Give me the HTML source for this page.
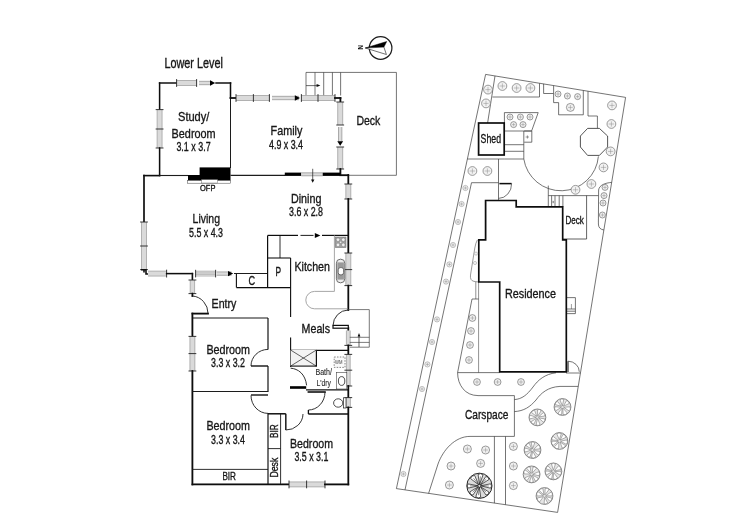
<!DOCTYPE html>
<html><head><meta charset="utf-8"><title>Floor plan</title>
<style>
html,body{margin:0;padding:0;background:#fff;}
body{width:750px;height:531px;overflow:hidden;font-family:"Liberation Sans",sans-serif;}
svg{display:block;font-family:"Liberation Sans",sans-serif;}
</style></head><body>
<svg width="750" height="531" viewBox="0 0 750 531">
<defs><filter id="soft" x="0" y="0" width="750" height="531" filterUnits="userSpaceOnUse"><feGaussianBlur stdDeviation="0.3"/></filter></defs>
<rect width="750" height="531" fill="#fff"/>
<g filter="url(#soft)">
<g id="floor">
<path d="M306 95 L306 72.4 L396.4 72.4 L396.4 175.3 L341 175.3" fill="none" stroke="#3a3a3a" stroke-width="0.7" />
<line x1="315" y1="72.4" x2="315" y2="95.5" stroke="#3a3a3a" stroke-width="0.7" />
<line x1="323.7" y1="72.4" x2="323.7" y2="95.5" stroke="#3a3a3a" stroke-width="0.7" />
<line x1="332.4" y1="72.4" x2="332.4" y2="95.5" stroke="#3a3a3a" stroke-width="0.7" />
<line x1="340.6" y1="72.4" x2="340.6" y2="95.5" stroke="#3a3a3a" stroke-width="0.7" />
<line x1="306" y1="85.6" x2="318" y2="85.6" stroke="#2a2a2a" stroke-width="0.7" />
<polygon points="320.4,85.6 316.6,84.1 316.6,87.1" fill="#111"/>
<line x1="159.6" y1="83" x2="176.6" y2="83" stroke="#0d0d0d" stroke-width="1.5" stroke-linecap="square"/>
<rect x="176.6" y="80.5" width="20.0" height="5.0" fill="#dadada"/>
<line x1="176.6" y1="80.5" x2="196.6" y2="80.5" stroke="#8a8a8a" stroke-width="0.6" />
<line x1="176.6" y1="85.5" x2="196.6" y2="85.5" stroke="#8a8a8a" stroke-width="0.6" />
<line x1="176.6" y1="79.1" x2="176.6" y2="86.9" stroke="#222" stroke-width="0.9" />
<line x1="196.6" y1="79.1" x2="196.6" y2="86.9" stroke="#222" stroke-width="0.9" />
<rect x="199" y="81.3" width="12.300000000000011" height="3.4" fill="#dcdcdc"/>
<line x1="199" y1="81.3" x2="211.3" y2="81.3" stroke="#666" stroke-width="0.5" />
<line x1="199" y1="84.7" x2="211.3" y2="84.7" stroke="#666" stroke-width="0.5" />
<polygon points="215.2,83 210.0,80.3 210.0,85.7" fill="#000"/>
<line x1="216" y1="83" x2="230.5" y2="83" stroke="#0d0d0d" stroke-width="1.5" stroke-linecap="square"/>
<line x1="230.5" y1="83" x2="230.5" y2="98" stroke="#0d0d0d" stroke-width="1.5" stroke-linecap="square"/>
<line x1="159.6" y1="83" x2="159.6" y2="109.6" stroke="#0d0d0d" stroke-width="1.5" stroke-linecap="square"/>
<rect x="157.1" y="109.6" width="5.0" height="38.400000000000006" fill="#dadada"/>
<line x1="157.1" y1="109.6" x2="157.1" y2="148" stroke="#8a8a8a" stroke-width="0.6" />
<line x1="162.1" y1="109.6" x2="162.1" y2="148" stroke="#8a8a8a" stroke-width="0.6" />
<line x1="155.7" y1="109.6" x2="163.5" y2="109.6" stroke="#222" stroke-width="0.9" />
<line x1="155.7" y1="129" x2="163.5" y2="129" stroke="#222" stroke-width="0.9" />
<line x1="155.7" y1="148" x2="163.5" y2="148" stroke="#222" stroke-width="0.9" />
<line x1="159.6" y1="148" x2="159.6" y2="175.5" stroke="#0d0d0d" stroke-width="1.5" stroke-linecap="square"/>
<line x1="230.5" y1="98" x2="230.5" y2="168" stroke="#1c1c1c" stroke-width="1.0" />
<line x1="230.5" y1="98" x2="236" y2="98" stroke="#0d0d0d" stroke-width="1.8" stroke-linecap="square"/>
<rect x="236" y="95.5" width="33.39999999999998" height="5.0" fill="#dadada"/>
<line x1="236" y1="95.5" x2="269.4" y2="95.5" stroke="#8a8a8a" stroke-width="0.6" />
<line x1="236" y1="100.5" x2="269.4" y2="100.5" stroke="#8a8a8a" stroke-width="0.6" />
<line x1="236" y1="94.1" x2="236" y2="101.9" stroke="#222" stroke-width="0.9" />
<line x1="253.4" y1="94.1" x2="253.4" y2="101.9" stroke="#222" stroke-width="0.9" />
<line x1="269.4" y1="94.1" x2="269.4" y2="101.9" stroke="#222" stroke-width="0.9" />
<rect x="272" y="96.3" width="27" height="3.4" fill="#dcdcdc"/>
<line x1="272" y1="96.3" x2="299" y2="96.3" stroke="#666" stroke-width="0.5" />
<line x1="272" y1="99.7" x2="299" y2="99.7" stroke="#666" stroke-width="0.5" />
<polygon points="300,98 294.8,95.3 294.8,100.7" fill="#000"/>
<rect x="301.4" y="95.5" width="33.60000000000002" height="5.0" fill="#dadada"/>
<line x1="301.4" y1="95.5" x2="335" y2="95.5" stroke="#8a8a8a" stroke-width="0.6" />
<line x1="301.4" y1="100.5" x2="335" y2="100.5" stroke="#8a8a8a" stroke-width="0.6" />
<line x1="301.4" y1="94.1" x2="301.4" y2="101.9" stroke="#222" stroke-width="0.9" />
<line x1="318" y1="94.1" x2="318" y2="101.9" stroke="#222" stroke-width="0.9" />
<line x1="335" y1="94.1" x2="335" y2="101.9" stroke="#222" stroke-width="0.9" />
<line x1="335" y1="98" x2="340.4" y2="98" stroke="#0d0d0d" stroke-width="1.8" stroke-linecap="square"/>
<line x1="340.4" y1="98" x2="340.4" y2="102" stroke="#0d0d0d" stroke-width="1.8" stroke-linecap="square"/>
<rect x="337.7" y="102" width="5.0" height="23" fill="#dadada"/>
<line x1="337.7" y1="102" x2="337.7" y2="125" stroke="#8a8a8a" stroke-width="0.6" />
<line x1="342.7" y1="102" x2="342.7" y2="125" stroke="#8a8a8a" stroke-width="0.6" />
<line x1="336.3" y1="102" x2="344.09999999999997" y2="102" stroke="#222" stroke-width="0.9" />
<line x1="336.3" y1="125" x2="344.09999999999997" y2="125" stroke="#222" stroke-width="0.9" />
<rect x="338.5" y="127" width="3.4" height="14.5" fill="#dcdcdc"/>
<line x1="338.5" y1="127" x2="338.5" y2="141.5" stroke="#666" stroke-width="0.5" />
<line x1="341.9" y1="127" x2="341.9" y2="141.5" stroke="#666" stroke-width="0.5" />
<polygon points="340.2,145.8 337.3,141.20000000000002 343.09999999999997,141.20000000000002" fill="#000"/>
<rect x="337.7" y="147" width="5.0" height="22" fill="#dadada"/>
<line x1="337.7" y1="147" x2="337.7" y2="169" stroke="#8a8a8a" stroke-width="0.6" />
<line x1="342.7" y1="147" x2="342.7" y2="169" stroke="#8a8a8a" stroke-width="0.6" />
<line x1="336.3" y1="147" x2="344.09999999999997" y2="147" stroke="#222" stroke-width="0.9" />
<line x1="336.3" y1="169" x2="344.09999999999997" y2="169" stroke="#222" stroke-width="0.9" />
<line x1="340.4" y1="169" x2="340.4" y2="175" stroke="#0d0d0d" stroke-width="1.8" stroke-linecap="square"/>
<line x1="144" y1="175.6" x2="159.6" y2="175.6" stroke="#0d0d0d" stroke-width="1.6" stroke-linecap="square"/>
<line x1="159.6" y1="175.5" x2="188" y2="175.5" stroke="#1c1c1c" stroke-width="1.1" />
<line x1="230.5" y1="175.4" x2="285" y2="175.4" stroke="#1c1c1c" stroke-width="1.1" />
<rect x="284.8" y="172.6" width="16.5" height="3.3" fill="#000"/>
<rect x="301.3" y="172.8" width="21.4" height="3.0" fill="#dcdcdc"/>
<line x1="301.3" y1="172.8" x2="322.7" y2="172.8" stroke="#666" stroke-width="0.5" />
<line x1="301.3" y1="175.8" x2="322.7" y2="175.8" stroke="#666" stroke-width="0.5" />
<rect x="322.7" y="172.6" width="17.6" height="3.3" fill="#000"/>
<line x1="340.2" y1="175.2" x2="348" y2="175.2" stroke="#0d0d0d" stroke-width="1.8" stroke-linecap="square"/>
<line x1="312.7" y1="168.8" x2="312.7" y2="181" stroke="#1c1c1c" stroke-width="0.7" />
<polygon points="312.7,182.7 311,179.6 314.4,179.6" fill="#111"/>
<rect x="199.6" y="167.4" width="30.9" height="13.2" fill="#000"/>
<rect x="188" y="175" width="12" height="5.6" fill="#000"/>
<rect x="187.6" y="180.6" width="42.9" height="2.6" fill="#fff" stroke="#444" stroke-width="0.5"/>
<rect x="201.6" y="179.6" width="16" height="3.4" fill="#fff" stroke="#555" stroke-width="0.4"/>
<line x1="144" y1="175.6" x2="144" y2="222" stroke="#0d0d0d" stroke-width="1.7" stroke-linecap="square"/>
<rect x="141.5" y="222" width="5.0" height="47.60000000000002" fill="#dadada"/>
<line x1="141.5" y1="222" x2="141.5" y2="269.6" stroke="#8a8a8a" stroke-width="0.6" />
<line x1="146.5" y1="222" x2="146.5" y2="269.6" stroke="#8a8a8a" stroke-width="0.6" />
<line x1="140.1" y1="222" x2="147.9" y2="222" stroke="#222" stroke-width="0.9" />
<line x1="140.1" y1="246" x2="147.9" y2="246" stroke="#222" stroke-width="0.9" />
<line x1="140.1" y1="269.6" x2="147.9" y2="269.6" stroke="#222" stroke-width="0.9" />
<path d="M141 269.8 L146 269.8 L146 274 L148.5 274" fill="none" stroke="#0d0d0d" stroke-width="1.6" />
<path d="M144 269.8 L144 272.5" fill="none" stroke="#0d0d0d" stroke-width="1.6" />
<rect x="148" y="271.1" width="18.599999999999994" height="5.0" fill="#dadada"/>
<line x1="148" y1="271.1" x2="166.6" y2="271.1" stroke="#8a8a8a" stroke-width="0.6" />
<line x1="148" y1="276.1" x2="166.6" y2="276.1" stroke="#8a8a8a" stroke-width="0.6" />
<line x1="166.6" y1="269.70000000000005" x2="166.6" y2="277.5" stroke="#222" stroke-width="0.9" />
<line x1="166.6" y1="273.6" x2="192.4" y2="273.6" stroke="#0d0d0d" stroke-width="1.5" stroke-linecap="square"/>
<rect x="195.6" y="271.2" width="20" height="4.8" fill="#f2f2f2"/>
<line x1="195.6" y1="271.2" x2="215.6" y2="271.2" stroke="#7a7a7a" stroke-width="0.55" />
<line x1="195.6" y1="272.9" x2="215.6" y2="272.9" stroke="#7a7a7a" stroke-width="0.55" />
<line x1="195.6" y1="274.3" x2="215.6" y2="274.3" stroke="#7a7a7a" stroke-width="0.55" />
<line x1="195.6" y1="276.0" x2="215.6" y2="276.0" stroke="#7a7a7a" stroke-width="0.55" />
<line x1="195.6" y1="269.8" x2="195.6" y2="277.4" stroke="#222" stroke-width="0.9" />
<line x1="215.6" y1="269.8" x2="215.6" y2="277.4" stroke="#222" stroke-width="0.9" />
<rect x="216.5" y="271.90000000000003" width="15.0" height="3.4" fill="#dcdcdc"/>
<line x1="216.5" y1="271.90000000000003" x2="231.5" y2="271.90000000000003" stroke="#666" stroke-width="0.5" />
<line x1="216.5" y1="275.3" x2="231.5" y2="275.3" stroke="#666" stroke-width="0.5" />
<polygon points="233.2,273.6 228.0,270.90000000000003 228.0,276.3" fill="#000"/>
<line x1="234" y1="273.5" x2="267.6" y2="273.5" stroke="#1c1c1c" stroke-width="1.1" />
<line x1="192.4" y1="273.6" x2="192.4" y2="280" stroke="#0d0d0d" stroke-width="1.6" stroke-linecap="square"/>
<rect x="190.20000000000002" y="280" width="4.4" height="13.600000000000023" fill="#dadada"/>
<line x1="190.20000000000002" y1="280" x2="190.20000000000002" y2="293.6" stroke="#8a8a8a" stroke-width="0.6" />
<line x1="194.6" y1="280" x2="194.6" y2="293.6" stroke="#8a8a8a" stroke-width="0.6" />
<line x1="188.5" y1="280" x2="196.3" y2="280" stroke="#222" stroke-width="0.9" />
<line x1="188.5" y1="293.6" x2="196.3" y2="293.6" stroke="#222" stroke-width="0.9" />
<line x1="192.4" y1="293.6" x2="192.4" y2="296" stroke="#0d0d0d" stroke-width="1.8" stroke-linecap="square"/>
<path d="M192.6 296 A17 17.4 0 0 1 208 313.4" fill="none" stroke="#1c1c1c" stroke-width="0.9" />
<line x1="192.4" y1="313.6" x2="208" y2="313.6" stroke="#0d0d0d" stroke-width="1.8" stroke-linecap="square"/>
<line x1="192.4" y1="313.6" x2="192.4" y2="336.4" stroke="#0d0d0d" stroke-width="1.8" stroke-linecap="square"/>
<rect x="189.9" y="336.4" width="5.0" height="34.60000000000002" fill="#dadada"/>
<line x1="189.9" y1="336.4" x2="189.9" y2="371" stroke="#8a8a8a" stroke-width="0.6" />
<line x1="194.9" y1="336.4" x2="194.9" y2="371" stroke="#8a8a8a" stroke-width="0.6" />
<line x1="188.5" y1="336.4" x2="196.3" y2="336.4" stroke="#222" stroke-width="0.9" />
<line x1="188.5" y1="353.6" x2="196.3" y2="353.6" stroke="#222" stroke-width="0.9" />
<line x1="188.5" y1="371" x2="196.3" y2="371" stroke="#222" stroke-width="0.9" />
<line x1="192.4" y1="371" x2="192.4" y2="484.4" stroke="#0d0d0d" stroke-width="1.8" stroke-linecap="square"/>
<line x1="192.4" y1="484.4" x2="289" y2="484.4" stroke="#0d0d0d" stroke-width="1.8" stroke-linecap="square"/>
<rect x="289" y="481.9" width="36" height="5.0" fill="#dadada"/>
<line x1="289" y1="481.9" x2="325" y2="481.9" stroke="#8a8a8a" stroke-width="0.6" />
<line x1="289" y1="486.9" x2="325" y2="486.9" stroke="#8a8a8a" stroke-width="0.6" />
<line x1="289" y1="480.5" x2="289" y2="488.29999999999995" stroke="#222" stroke-width="0.9" />
<line x1="306.6" y1="480.5" x2="306.6" y2="488.29999999999995" stroke="#222" stroke-width="0.9" />
<line x1="325" y1="480.5" x2="325" y2="488.29999999999995" stroke="#222" stroke-width="0.9" />
<line x1="325" y1="484.4" x2="348.3" y2="484.4" stroke="#0d0d0d" stroke-width="1.8" stroke-linecap="square"/>
<line x1="348.3" y1="175" x2="348.3" y2="184" stroke="#0d0d0d" stroke-width="1.8" stroke-linecap="square"/>
<rect x="345.8" y="184" width="5.0" height="15" fill="#dadada"/>
<line x1="345.8" y1="184" x2="345.8" y2="199" stroke="#8a8a8a" stroke-width="0.6" />
<line x1="350.8" y1="184" x2="350.8" y2="199" stroke="#8a8a8a" stroke-width="0.6" />
<line x1="344.40000000000003" y1="184" x2="352.2" y2="184" stroke="#222" stroke-width="0.9" />
<line x1="344.40000000000003" y1="199" x2="352.2" y2="199" stroke="#222" stroke-width="0.9" />
<line x1="348.3" y1="199" x2="348.3" y2="253" stroke="#0d0d0d" stroke-width="1.8" stroke-linecap="square"/>
<rect x="345.8" y="253" width="5.0" height="32.60000000000002" fill="#dadada"/>
<line x1="345.8" y1="253" x2="345.8" y2="285.6" stroke="#8a8a8a" stroke-width="0.6" />
<line x1="350.8" y1="253" x2="350.8" y2="285.6" stroke="#8a8a8a" stroke-width="0.6" />
<line x1="344.40000000000003" y1="253" x2="352.2" y2="253" stroke="#222" stroke-width="0.9" />
<line x1="344.40000000000003" y1="269.6" x2="352.2" y2="269.6" stroke="#222" stroke-width="0.9" />
<line x1="344.40000000000003" y1="285.6" x2="352.2" y2="285.6" stroke="#222" stroke-width="0.9" />
<line x1="348.3" y1="285.6" x2="348.3" y2="310" stroke="#0d0d0d" stroke-width="1.8" stroke-linecap="square"/>
<line x1="348.3" y1="328" x2="348.3" y2="330.5" stroke="#0d0d0d" stroke-width="1.8" stroke-linecap="square"/>
<rect x="346.40000000000003" y="330.5" width="3.8" height="14.899999999999977" fill="#dadada"/>
<line x1="346.40000000000003" y1="330.5" x2="346.40000000000003" y2="345.4" stroke="#8a8a8a" stroke-width="0.6" />
<line x1="350.2" y1="330.5" x2="350.2" y2="345.4" stroke="#8a8a8a" stroke-width="0.6" />
<line x1="344.40000000000003" y1="345.4" x2="352.2" y2="345.4" stroke="#222" stroke-width="0.9" />
<line x1="348.3" y1="345.4" x2="348.3" y2="354.4" stroke="#0d0d0d" stroke-width="1.8" stroke-linecap="square"/>
<rect x="346.40000000000003" y="354.4" width="3.8" height="31.600000000000023" fill="#dadada"/>
<line x1="346.40000000000003" y1="354.4" x2="346.40000000000003" y2="386" stroke="#8a8a8a" stroke-width="0.6" />
<line x1="350.2" y1="354.4" x2="350.2" y2="386" stroke="#8a8a8a" stroke-width="0.6" />
<line x1="344.40000000000003" y1="354.4" x2="352.2" y2="354.4" stroke="#222" stroke-width="0.9" />
<line x1="344.40000000000003" y1="370.2" x2="352.2" y2="370.2" stroke="#222" stroke-width="0.9" />
<line x1="344.40000000000003" y1="386" x2="352.2" y2="386" stroke="#222" stroke-width="0.9" />
<line x1="348.3" y1="386" x2="348.3" y2="397.6" stroke="#0d0d0d" stroke-width="1.8" stroke-linecap="square"/>
<rect x="346.2" y="397.6" width="4.2" height="9.799999999999955" fill="#dadada"/>
<line x1="346.2" y1="397.6" x2="346.2" y2="407.4" stroke="#8a8a8a" stroke-width="0.6" />
<line x1="350.40000000000003" y1="397.6" x2="350.40000000000003" y2="407.4" stroke="#8a8a8a" stroke-width="0.6" />
<line x1="344.40000000000003" y1="397.6" x2="352.2" y2="397.6" stroke="#222" stroke-width="0.9" />
<line x1="344.40000000000003" y1="407.4" x2="352.2" y2="407.4" stroke="#222" stroke-width="0.9" />
<line x1="348.3" y1="407.4" x2="348.3" y2="484.4" stroke="#0d0d0d" stroke-width="1.8" stroke-linecap="square"/>
<line x1="267.6" y1="235.4" x2="298" y2="235.4" stroke="#0d0d0d" stroke-width="1.2" />
<line x1="300.5" y1="235.4" x2="313.5" y2="235.4" stroke="#1c1c1c" stroke-width="1.0" />
<polygon points="320.4,235.4 314.8,232.9 314.8,237.9" fill="#000"/>
<line x1="322" y1="235.4" x2="348" y2="235.4" stroke="#0d0d0d" stroke-width="1.2" />
<line x1="267.6" y1="235.4" x2="267.6" y2="287.6" stroke="#0d0d0d" stroke-width="1.2" />
<line x1="280" y1="235.4" x2="280" y2="258" stroke="#1c1c1c" stroke-width="0.9" />
<line x1="267.6" y1="258" x2="290.6" y2="258" stroke="#0d0d0d" stroke-width="1.1" />
<line x1="290.6" y1="258" x2="290.6" y2="317" stroke="#0d0d0d" stroke-width="1.1" />
<line x1="236.4" y1="287.6" x2="290.6" y2="287.6" stroke="#0d0d0d" stroke-width="1.1" />
<line x1="236.4" y1="273.4" x2="236.4" y2="287.6" stroke="#0d0d0d" stroke-width="1.1" />
<line x1="290.6" y1="337.4" x2="290.6" y2="367" stroke="#0d0d0d" stroke-width="1.1" />
<path d="M334.4 235.4 L334.4 291.4 L314.5 291.4 A8.7 8.7 0 0 0 314.5 308.8 L347 308.8" fill="none" stroke="#9c9c9c" stroke-width="0.9" />
<rect x="335.2" y="237" width="10.8" height="10.6" fill="#a2a2a2" stroke="#6e6e6e" stroke-width="0.5"/>
<circle cx="338" cy="239.7" r="1.8" fill="#efefef" stroke="#666" stroke-width="0.4"/>
<circle cx="338" cy="244.9" r="1.8" fill="#efefef" stroke="#666" stroke-width="0.4"/>
<circle cx="343.3" cy="239.7" r="1.8" fill="#efefef" stroke="#666" stroke-width="0.4"/>
<circle cx="343.3" cy="244.9" r="1.8" fill="#efefef" stroke="#666" stroke-width="0.4"/>
<circle cx="340.65" cy="242.3" r="0.8" fill="#f4f4f4"/>
<rect x="336.4" y="259.2" width="8.4" height="23.6" rx="4" fill="#ededed" stroke="#4a4a4a" stroke-width="0.8"/>
<rect x="337.3" y="262.4" width="6.6" height="17.2" fill="#9a9a9a"/>
<rect x="338.2" y="267.6" width="5.4" height="7.2" rx="2.2" fill="#fff" stroke="#444" stroke-width="0.7"/>
<path d="M348.3 309.6 L369.3 309.6 L369.3 347.2 L349.8 347.2" fill="none" stroke="#555" stroke-width="0.8" />
<line x1="349.8" y1="337.3" x2="369.3" y2="337.3" stroke="#444" stroke-width="0.7" />
<line x1="349.8" y1="342.4" x2="369.3" y2="342.4" stroke="#444" stroke-width="0.7" />
<line x1="359" y1="347" x2="359" y2="335" stroke="#222" stroke-width="0.7" />
<polygon points="359,333 357.6,336.4 360.4,336.4" fill="#111"/>
<path d="M348 310 A15.5 16 0 0 0 333 325.6" fill="none" stroke="#1c1c1c" stroke-width="0.9" />
<rect x="333" y="325.4" width="15.3" height="2.8" fill="#fff" stroke="#0d0d0d" stroke-width="1.2"/>
<line x1="290.6" y1="350.3" x2="348.3" y2="350.3" stroke="#0d0d0d" stroke-width="1.2" />
<rect x="290.6" y="350" width="25.7" height="16.1" fill="#f3f3f3"/>
<path d="M290.6 350 L316.3 366.1 M316.3 350 L290.6 366.1" fill="none" stroke="#222" stroke-width="0.7" />
<line x1="316.4" y1="350.3" x2="316.4" y2="366.2" stroke="#111" stroke-width="1.2" />
<line x1="290.6" y1="366.1" x2="316.9" y2="366.1" stroke="#0d0d0d" stroke-width="1.1" />
<path d="M290.6 368.2 C298 368.6 305.4 374 306.6 385.4" fill="none" stroke="#1c1c1c" stroke-width="0.9" />
<rect x="290" y="386.2" width="16.2" height="2.6" fill="#000"/>
<line x1="306" y1="389.8" x2="348.3" y2="389.8" stroke="#111" stroke-width="1.2" />
<rect x="334.2" y="357" width="10.8" height="10.4" fill="#fafafa" stroke="#666" stroke-width="0.8" stroke-dasharray="1.5 1.3"/>
<text x="335" y="363.7" font-size="4.6" textLength="7.4" lengthAdjust="spacingAndGlyphs" fill="#3a3a3a">WM</text>
<rect x="336.4" y="372.6" width="10.4" height="16.4" fill="#fff" stroke="#444" stroke-width="0.6"/>
<ellipse cx="341.6" cy="381" rx="3.2" ry="4.4" fill="#fff" stroke="#222" stroke-width="0.8"/>
<line x1="308.4" y1="392" x2="325" y2="392" stroke="#0d0d0d" stroke-width="1.6" stroke-linecap="square"/>
<path d="M325 392 A16.6 18 0 0 1 308.4 410" fill="none" stroke="#1c1c1c" stroke-width="0.9" />
<line x1="308.4" y1="410" x2="308.4" y2="414" stroke="#0d0d0d" stroke-width="1.3" />
<line x1="308.4" y1="414" x2="348.3" y2="414" stroke="#0d0d0d" stroke-width="1.3" />
<ellipse cx="338.2" cy="403" rx="4.6" ry="4.2" fill="#fff" stroke="#222" stroke-width="0.8"/>
<rect x="343.4" y="397.8" width="2.6" height="10.2" fill="#fff" stroke="#222" stroke-width="0.7"/>
<line x1="192.4" y1="318" x2="268" y2="318" stroke="#1c1c1c" stroke-width="1.1" />
<line x1="268" y1="318" x2="268" y2="349.4" stroke="#0d0d0d" stroke-width="1.2" />
<path d="M268 349.4 A17 16.6 0 0 0 251 366" fill="none" stroke="#1c1c1c" stroke-width="0.9" />
<line x1="251" y1="366" x2="268" y2="366" stroke="#0d0d0d" stroke-width="1.4" />
<line x1="268" y1="366" x2="268" y2="392" stroke="#0d0d0d" stroke-width="1.2" />
<line x1="192.4" y1="391.5" x2="268" y2="391.5" stroke="#1c1c1c" stroke-width="1.1" />
<line x1="251" y1="395" x2="268" y2="395" stroke="#0d0d0d" stroke-width="1.4" />
<path d="M251 395.4 A17 18 0 0 0 268 413.4" fill="none" stroke="#1c1c1c" stroke-width="0.9" />
<line x1="268" y1="413.4" x2="268" y2="484.4" stroke="#0d0d0d" stroke-width="1.2" />
<line x1="268" y1="413.8" x2="285.8" y2="413.8" stroke="#0d0d0d" stroke-width="1.5" />
<line x1="280.6" y1="413.8" x2="280.6" y2="484.4" stroke="#1c1c1c" stroke-width="0.9" />
<line x1="268" y1="448.6" x2="280.6" y2="448.6" stroke="#1c1c1c" stroke-width="0.9" />
<line x1="285.8" y1="413.8" x2="285.8" y2="430" stroke="#0d0d0d" stroke-width="1.4" />
<path d="M285.8 430 A17 16.4 0 0 0 303 414" fill="none" stroke="#1c1c1c" stroke-width="0.9" />
<line x1="192.4" y1="469.4" x2="268" y2="469.4" stroke="#1c1c1c" stroke-width="0.9" />
</g>
<g id="ftext">
<text x="164.4" y="68" font-size="13.8" textLength="58.6" lengthAdjust="spacingAndGlyphs" fill="#151515" stroke="#151515" stroke-width="0.34" >Lower Level</text>
<text x="178" y="121.4" font-size="13.5" textLength="31.4" lengthAdjust="spacingAndGlyphs" fill="#151515" stroke="#151515" stroke-width="0.34" >Study/</text>
<text x="171.6" y="137.6" font-size="13.5" textLength="44.0" lengthAdjust="spacingAndGlyphs" fill="#151515" stroke="#151515" stroke-width="0.34" >Bedroom</text>
<text x="176.4" y="150.6" font-size="12.0" textLength="34.2" lengthAdjust="spacingAndGlyphs" fill="#151515" stroke="#151515" stroke-width="0.34" >3.1 x 3.7</text>
<text x="270.6" y="135" font-size="13.5" textLength="31.8" lengthAdjust="spacingAndGlyphs" fill="#151515" stroke="#151515" stroke-width="0.34" >Family</text>
<text x="269" y="148.6" font-size="12.0" textLength="34" lengthAdjust="spacingAndGlyphs" fill="#151515" stroke="#151515" stroke-width="0.34" >4.9 x 3.4</text>
<text x="356.4" y="125" font-size="13.5" textLength="24.0" lengthAdjust="spacingAndGlyphs" fill="#151515" stroke="#151515" stroke-width="0.34" >Deck</text>
<text x="200" y="191.1" font-size="8.8" textLength="15.4" lengthAdjust="spacingAndGlyphs" fill="#151515" stroke="#151515" stroke-width="0.34" >OFP</text>
<text x="192.6" y="223.4" font-size="13.5" textLength="27.4" lengthAdjust="spacingAndGlyphs" fill="#151515" stroke="#151515" stroke-width="0.34" >Living</text>
<text x="189" y="236.5" font-size="12.0" textLength="34" lengthAdjust="spacingAndGlyphs" fill="#151515" stroke="#151515" stroke-width="0.34" >5.5 x 4.3</text>
<text x="291" y="202.6" font-size="13.5" textLength="30.4" lengthAdjust="spacingAndGlyphs" fill="#151515" stroke="#151515" stroke-width="0.34" >Dining</text>
<text x="289" y="215.6" font-size="12.0" textLength="34" lengthAdjust="spacingAndGlyphs" fill="#151515" stroke="#151515" stroke-width="0.34" >3.6 x 2.8</text>
<text x="294.4" y="271.4" font-size="13.5" textLength="35.6" lengthAdjust="spacingAndGlyphs" fill="#151515" stroke="#151515" stroke-width="0.34" >Kitchen</text>
<text x="275.6" y="275.6" font-size="12.0" textLength="5.6" lengthAdjust="spacingAndGlyphs" fill="#151515" stroke="#151515" stroke-width="0.34" >P</text>
<text x="248.6" y="285" font-size="12.0" textLength="6.6" lengthAdjust="spacingAndGlyphs" fill="#151515" stroke="#151515" stroke-width="0.34" >C</text>
<text x="211.6" y="307.6" font-size="13.5" textLength="24.8" lengthAdjust="spacingAndGlyphs" fill="#151515" stroke="#151515" stroke-width="0.34" >Entry</text>
<text x="301.6" y="332.6" font-size="13.5" textLength="28.4" lengthAdjust="spacingAndGlyphs" fill="#151515" stroke="#151515" stroke-width="0.34" >Meals</text>
<text x="206.4" y="353.6" font-size="13.5" textLength="43.6" lengthAdjust="spacingAndGlyphs" fill="#151515" stroke="#151515" stroke-width="0.34" >Bedroom</text>
<text x="211" y="367" font-size="12.0" textLength="34" lengthAdjust="spacingAndGlyphs" fill="#151515" stroke="#151515" stroke-width="0.34" >3.3 x 3.2</text>
<text x="315.4" y="374.6" font-size="9.4" textLength="16.6" lengthAdjust="spacingAndGlyphs" fill="#2a2a2a" stroke="#2a2a2a" stroke-width="0.12">Bath/</text>
<text x="316.4" y="385.6" font-size="9.4" textLength="14.6" lengthAdjust="spacingAndGlyphs" fill="#2a2a2a" stroke="#2a2a2a" stroke-width="0.12">L'dry</text>
<text x="206.4" y="430.4" font-size="13.5" textLength="43.6" lengthAdjust="spacingAndGlyphs" fill="#151515" stroke="#151515" stroke-width="0.34" >Bedroom</text>
<text x="211" y="444.4" font-size="12.0" textLength="34" lengthAdjust="spacingAndGlyphs" fill="#151515" stroke="#151515" stroke-width="0.34" >3.3 x 3.4</text>
<text x="222.4" y="480.2" font-size="10.8" textLength="13.6" lengthAdjust="spacingAndGlyphs" fill="#151515" stroke="#151515" stroke-width="0.34" >BIR</text>
<text transform="translate(278.0664,438.0) rotate(-90)" x="0" y="0" font-size="10.8" textLength="13.6" lengthAdjust="spacingAndGlyphs" fill="#151515" stroke="#151515" stroke-width="0.34">BIR</text>
<text transform="translate(278.0664,477.6) rotate(-90)" x="0" y="0" font-size="10.8" textLength="20" lengthAdjust="spacingAndGlyphs" fill="#151515" stroke="#151515" stroke-width="0.34">Desk</text>
<text x="290" y="447.6" font-size="13.5" textLength="43" lengthAdjust="spacingAndGlyphs" fill="#151515" stroke="#151515" stroke-width="0.34" >Bedroom</text>
<text x="294.4" y="460.6" font-size="12.0" textLength="34.0" lengthAdjust="spacingAndGlyphs" fill="#151515" stroke="#151515" stroke-width="0.34" >3.5 x 3.1</text>
</g>
<g id="compass">
<circle cx="380.6" cy="48" r="11.3" fill="#fff" stroke="#1a1a1a" stroke-width="1.2"/>
<polygon points="365.4,48 386.7,41.5 383.9,47.1" fill="#000" stroke="#000" stroke-width="0.5"/>
<polygon points="365.4,48 383.9,47.1 386.4,54.5" fill="#fff" stroke="#111" stroke-width="0.6"/>
<text transform="translate(358,45) rotate(90)" font-size="6.6" font-weight="bold" fill="#111" textLength="4.6" lengthAdjust="spacingAndGlyphs">N</text>
</g>
<g id="site">
<path d="M485.6 74.4 L625.6 97.4 L557.6 512.4 L396.4 488.6 Z" fill="none" stroke="#3a3a3a" stroke-width="0.7" />
<path d="M495 75.9 L487.6 123" fill="none" stroke="#3a3a3a" stroke-width="0.7" />
<path d="M492.4 97 L539.5 97 L539.5 83.3" fill="none" stroke="#3a3a3a" stroke-width="0.7" />
<path d="M543.6 83.9 L543.6 93.5 L553.6 93.5 L553.6 85.6" fill="none" stroke="#3a3a3a" stroke-width="0.7" />
<path d="M553.6 93.5 L553.6 102.6 L558.6 102.6 L558.6 114.8 L583.3 114.8 L583.3 90.5" fill="none" stroke="#3a3a3a" stroke-width="0.7" />
<path d="M588 91.2 L588 116 L597.4 116 L597.4 128.4" fill="none" stroke="#3a3a3a" stroke-width="0.7" />
<path d="M587.6 128.4 L599.4 128.4 L607.6 136 L607.6 147 L599.4 155.4 L587.6 155.4 L580.4 147 L580.4 136 Z" fill="#fff" stroke="#2a2a2a" stroke-width="0.8" />
<path d="M504.4 123 L504.4 112.6 L538.2 112.6 L531.6 131 L504.4 131" fill="none" stroke="#3a3a3a" stroke-width="0.7" />
<path d="M504.4 144.7 L523.8 144.7" fill="none" stroke="#3a3a3a" stroke-width="0.7" />
<path d="M504.4 151.3 L523.8 151.3" fill="none" stroke="#3a3a3a" stroke-width="0.7" />
<path d="M504.4 159.0 L523.8 159.0" fill="none" stroke="#3a3a3a" stroke-width="0.7" />
<path d="M523.8 131 L523.8 159" fill="none" stroke="#3a3a3a" stroke-width="0.7" />
<path d="M524.2 131 L531.8 131 L531.8 142.2 L524.2 142.2" fill="none" stroke="#3a3a3a" stroke-width="0.7" />
<path d="M525.6 137 L529 137 M527.4 135.4 L527.4 138.6" fill="none" stroke="#3a3a3a" stroke-width="0.5" />
<rect x="478.6" y="123" width="25.6" height="32" fill="#fff" stroke="#0d0d0d" stroke-width="1.7"/>
<path d="M467.4 159 L504.4 159 M498.5 159 L498.5 200.6" fill="none" stroke="#3a3a3a" stroke-width="0.7" />
<path d="M471.5 182.7 L498.5 182.7" fill="none" stroke="#3a3a3a" stroke-width="0.7" />
<path d="M471.5 182.7 L405 489.9" fill="none" stroke="#3a3a3a" stroke-width="0.7" />
<path d="M523.8 159 A37.6 37.6 0 0 0 598.4 156.4" fill="none" stroke="#3a3a3a" stroke-width="0.7" />
<line x1="499.4" y1="183.6" x2="511.6" y2="183.6" stroke="#111" stroke-width="1.5" />
<path d="M511.6 183.6 A13.2 14.6 0 0 1 498.6 198.4" fill="none" stroke="#3a3a3a" stroke-width="0.7" />
<path d="M548.3 185.6 L548.3 206.6" fill="none" stroke="#3a3a3a" stroke-width="0.7" />
<path d="M548.3 195.6 L598.4 195.6" fill="none" stroke="#3a3a3a" stroke-width="0.7" />
<path d="M586.6 195.6 L586.6 239 L563 239" fill="none" stroke="#3a3a3a" stroke-width="0.8" />
<path d="M551.6 195.6 L551.6 206.6" fill="none" stroke="#3a3a3a" stroke-width="0.7" />
<path d="M555 195.6 L555 206.6" fill="none" stroke="#3a3a3a" stroke-width="0.7" />
<path d="M559.2 195.6 L559.2 206.6" fill="none" stroke="#3a3a3a" stroke-width="0.7" />
<path d="M562.9 195.6 L562.9 206.6" fill="none" stroke="#3a3a3a" stroke-width="0.7" />
<path d="M552.4 202 L554 202 M553.2 200.8 L553.2 203.2" fill="none" stroke="#3a3a3a" stroke-width="0.5" />
<path d="M611.7 182.4 C605 183 599.4 185 598.6 190 L598.4 224 C598.4 227.6 600.4 229.4 603.9 230" fill="none" stroke="#3a3a3a" stroke-width="0.7" />
<path d="M566.6 297.6 L575.4 297.6 L575.4 313.6 L566.6 313.6 M566.6 309 L575.4 309 M566.6 311.2 L575.4 311.2" fill="none" stroke="#3a3a3a" stroke-width="0.7" />
<path d="M571.4 309 L571.4 304" fill="none" stroke="#3a3a3a" stroke-width="0.5" />
<path d="M477.4 239.9 Q475.6 243 474.8 248 L470.5 275 Q469.8 280.6 474 281.4 L478.8 282" fill="none" stroke="#555" stroke-width="0.6" />
<path d="M475.8 282 L475.8 299 M478.6 282 L478.6 372.6" fill="none" stroke="#444" stroke-width="0.6" />
<path d="M478.6 299 L472 299 L457.6 372.6" fill="none" stroke="#3a3a3a" stroke-width="0.7" />
<path d="M457.6 372.6 L499.6 372.6" fill="none" stroke="#3a3a3a" stroke-width="0.7" />
<path d="M566 373 L580.4 373" fill="none" stroke="#3a3a3a" stroke-width="0.7" />
<path d="M457.6 372.6 C457.6 385 465 395.6 478 395.6 L514.4 395.6 L514.4 436.4 L470 436.4 C455 436.4 443 450 438 464 L428.6 493.4" fill="none" stroke="#3a3a3a" stroke-width="0.7" />
<path d="M494.4 436.4 L494.4 503.1 M505.5 436.4 L505.5 504.7" fill="none" stroke="#3a3a3a" stroke-width="0.7" />
<line x1="568" y1="361.2" x2="568" y2="372" stroke="#5a5a5a" stroke-width="1.5" />
<path d="M568 361.2 A11.4 10.6 0 0 1 579.3 371.8" fill="none" stroke="#3a3a3a" stroke-width="0.7" />
<path d="M556 372.8 C545 374 538 380 533 387 C527 395 522 399 514.4 399.6" fill="none" stroke="#3a3a3a" stroke-width="0.7" />
<path d="M578.2 386.4 L560 386.4 C548 387 541 393 536 400 C530 407 524 411 514.4 411.6" fill="none" stroke="#3a3a3a" stroke-width="0.7" />
<path d="M485.6 200.5 L516.2 200.5 L516.2 206.8 L562.7 206.8 L562.7 239.9 L566.3 239.9 L566.3 371.8 L499.7 371.8 L499.7 282 L478.8 282 L478.8 239.9 L485.6 239.9 Z" fill="none" stroke="#0d0d0d" stroke-width="1.7" stroke-linejoin="miter"/>
<circle cx="502.4" cy="86" r="4.4" fill="#f1f1f1" stroke="#727272" stroke-width="0.7"/>
<path d="M499.76 86 L505.03999999999996 86 M502.4 83.36 L502.4 88.64" stroke="#8c8c8c" stroke-width="0.5" fill="none"/>
<circle cx="516.6" cy="88" r="4.4" fill="#f1f1f1" stroke="#727272" stroke-width="0.7"/>
<path d="M513.96 88 L519.24 88 M516.6 85.36 L516.6 90.64" stroke="#8c8c8c" stroke-width="0.5" fill="none"/>
<circle cx="530.4" cy="88" r="4.4" fill="#f1f1f1" stroke="#727272" stroke-width="0.7"/>
<path d="M527.76 88 L533.04 88 M530.4 85.36 L530.4 90.64" stroke="#8c8c8c" stroke-width="0.5" fill="none"/>
<circle cx="488" cy="89.6" r="4.4" fill="#f1f1f1" stroke="#727272" stroke-width="0.7"/>
<path d="M485.36 89.6 L490.64 89.6 M488 86.96 L488 92.24" stroke="#8c8c8c" stroke-width="0.5" fill="none"/>
<circle cx="486" cy="103.4" r="4.4" fill="#f1f1f1" stroke="#727272" stroke-width="0.7"/>
<path d="M483.36 103.4 L488.64 103.4 M486 100.76 L486 106.04" stroke="#8c8c8c" stroke-width="0.5" fill="none"/>
<circle cx="612" cy="105.4" r="4.4" fill="#f1f1f1" stroke="#727272" stroke-width="0.7"/>
<path d="M609.36 105.4 L614.64 105.4 M612 102.76 L612 108.04" stroke="#8c8c8c" stroke-width="0.5" fill="none"/>
<circle cx="611.4" cy="124" r="4.4" fill="#f1f1f1" stroke="#727272" stroke-width="0.7"/>
<path d="M608.76 124 L614.04 124 M611.4 121.36 L611.4 126.64" stroke="#8c8c8c" stroke-width="0.5" fill="none"/>
<circle cx="610.6" cy="151.4" r="4.4" fill="#f1f1f1" stroke="#727272" stroke-width="0.7"/>
<path d="M607.96 151.4 L613.24 151.4 M610.6 148.76000000000002 L610.6 154.04" stroke="#8c8c8c" stroke-width="0.5" fill="none"/>
<circle cx="603.5" cy="167.4" r="4.4" fill="#f1f1f1" stroke="#727272" stroke-width="0.7"/>
<path d="M600.86 167.4 L606.14 167.4 M603.5 164.76000000000002 L603.5 170.04" stroke="#8c8c8c" stroke-width="0.5" fill="none"/>
<circle cx="591.4" cy="184" r="4.4" fill="#f1f1f1" stroke="#727272" stroke-width="0.7"/>
<path d="M588.76 184 L594.04 184 M591.4 181.36 L591.4 186.64" stroke="#8c8c8c" stroke-width="0.5" fill="none"/>
<circle cx="575.5" cy="189.8" r="4.4" fill="#f1f1f1" stroke="#727272" stroke-width="0.7"/>
<path d="M572.86 189.8 L578.14 189.8 M575.5 187.16000000000003 L575.5 192.44" stroke="#8c8c8c" stroke-width="0.5" fill="none"/>
<circle cx="472.4" cy="171" r="4.4" fill="#f1f1f1" stroke="#727272" stroke-width="0.7"/>
<path d="M469.76 171 L475.03999999999996 171 M472.4 168.36 L472.4 173.64" stroke="#8c8c8c" stroke-width="0.5" fill="none"/>
<circle cx="487.4" cy="171" r="4.4" fill="#f1f1f1" stroke="#727272" stroke-width="0.7"/>
<path d="M484.76 171 L490.03999999999996 171 M487.4 168.36 L487.4 173.64" stroke="#8c8c8c" stroke-width="0.5" fill="none"/>
<circle cx="558" cy="94" r="3.0" fill="#f1f1f1" stroke="#727272" stroke-width="0.7"/>
<path d="M556.2 94 L559.8 94 M558 92.2 L558 95.8" stroke="#8c8c8c" stroke-width="0.5" fill="none"/>
<circle cx="567.4" cy="96" r="3.0" fill="#f1f1f1" stroke="#727272" stroke-width="0.7"/>
<path d="M565.6 96 L569.1999999999999 96 M567.4 94.2 L567.4 97.8" stroke="#8c8c8c" stroke-width="0.5" fill="none"/>
<circle cx="577.6" cy="96.6" r="3.0" fill="#f1f1f1" stroke="#727272" stroke-width="0.7"/>
<path d="M575.8000000000001 96.6 L579.4 96.6 M577.6 94.8 L577.6 98.39999999999999" stroke="#8c8c8c" stroke-width="0.5" fill="none"/>
<circle cx="510" cy="117" r="3.0" fill="#f1f1f1" stroke="#727272" stroke-width="0.7"/>
<path d="M508.2 117 L511.8 117 M510 115.2 L510 118.8" stroke="#8c8c8c" stroke-width="0.5" fill="none"/>
<circle cx="520.4" cy="117" r="3.0" fill="#f1f1f1" stroke="#727272" stroke-width="0.7"/>
<path d="M518.6 117 L522.1999999999999 117 M520.4 115.2 L520.4 118.8" stroke="#8c8c8c" stroke-width="0.5" fill="none"/>
<circle cx="530" cy="117" r="3.0" fill="#f1f1f1" stroke="#727272" stroke-width="0.7"/>
<path d="M528.2 117 L531.8 117 M530 115.2 L530 118.8" stroke="#8c8c8c" stroke-width="0.5" fill="none"/>
<circle cx="513.6" cy="124.6" r="3.0" fill="#f1f1f1" stroke="#727272" stroke-width="0.7"/>
<path d="M511.8 124.6 L515.4 124.6 M513.6 122.8 L513.6 126.39999999999999" stroke="#8c8c8c" stroke-width="0.5" fill="none"/>
<circle cx="523" cy="124.6" r="3.0" fill="#f1f1f1" stroke="#727272" stroke-width="0.7"/>
<path d="M521.2 124.6 L524.8 124.6 M523 122.8 L523 126.39999999999999" stroke="#8c8c8c" stroke-width="0.5" fill="none"/>
<circle cx="605" cy="187.4" r="3.0" fill="#f1f1f1" stroke="#727272" stroke-width="0.7"/>
<path d="M603.2 187.4 L606.8 187.4 M605 185.6 L605 189.20000000000002" stroke="#8c8c8c" stroke-width="0.5" fill="none"/>
<circle cx="604" cy="195.6" r="3.0" fill="#f1f1f1" stroke="#727272" stroke-width="0.7"/>
<path d="M602.2 195.6 L605.8 195.6 M604 193.79999999999998 L604 197.4" stroke="#8c8c8c" stroke-width="0.5" fill="none"/>
<circle cx="603" cy="203" r="3.0" fill="#f1f1f1" stroke="#727272" stroke-width="0.7"/>
<path d="M601.2 203 L604.8 203 M603 201.2 L603 204.8" stroke="#8c8c8c" stroke-width="0.5" fill="none"/>
<circle cx="602.4" cy="215" r="3.0" fill="#f1f1f1" stroke="#727272" stroke-width="0.7"/>
<path d="M600.6 215 L604.1999999999999 215 M602.4 213.2 L602.4 216.8" stroke="#8c8c8c" stroke-width="0.5" fill="none"/>
<circle cx="570.4" cy="107.4" r="4.0" fill="#f1f1f1" stroke="#727272" stroke-width="0.7"/>
<path d="M568.0 107.4 L572.8 107.4 M570.4 105.0 L570.4 109.80000000000001" stroke="#8c8c8c" stroke-width="0.5" fill="none"/>
<circle cx="465.4" cy="188" r="2.6" fill="#f1f1f1" stroke="#888" stroke-width="0.5"/>
<path d="M463.84 188 L466.96 188 M465.4 186.44 L465.4 189.56" stroke="#8c8c8c" stroke-width="0.5" fill="none"/>
<circle cx="461.6" cy="204" r="2.6" fill="#f1f1f1" stroke="#888" stroke-width="0.5"/>
<path d="M460.04 204 L463.16 204 M461.6 202.44 L461.6 205.56" stroke="#8c8c8c" stroke-width="0.5" fill="none"/>
<circle cx="458" cy="222" r="2.6" fill="#f1f1f1" stroke="#888" stroke-width="0.5"/>
<path d="M456.44 222 L459.56 222 M458 220.44 L458 223.56" stroke="#8c8c8c" stroke-width="0.5" fill="none"/>
<circle cx="453" cy="245" r="2.6" fill="#f1f1f1" stroke="#888" stroke-width="0.5"/>
<path d="M451.44 245 L454.56 245 M453 243.44 L453 246.56" stroke="#8c8c8c" stroke-width="0.5" fill="none"/>
<circle cx="449.4" cy="264.4" r="2.6" fill="#f1f1f1" stroke="#888" stroke-width="0.5"/>
<path d="M447.84 264.4 L450.96 264.4 M449.4 262.84 L449.4 265.96" stroke="#8c8c8c" stroke-width="0.5" fill="none"/>
<circle cx="446" cy="281.6" r="2.6" fill="#f1f1f1" stroke="#888" stroke-width="0.5"/>
<path d="M444.44 281.6 L447.56 281.6 M446 280.04 L446 283.16" stroke="#8c8c8c" stroke-width="0.5" fill="none"/>
<circle cx="437" cy="319.4" r="2.6" fill="#f1f1f1" stroke="#888" stroke-width="0.5"/>
<path d="M435.44 319.4 L438.56 319.4 M437 317.84 L437 320.96" stroke="#8c8c8c" stroke-width="0.5" fill="none"/>
<circle cx="432" cy="342" r="2.6" fill="#f1f1f1" stroke="#888" stroke-width="0.5"/>
<path d="M430.44 342 L433.56 342 M432 340.44 L432 343.56" stroke="#8c8c8c" stroke-width="0.5" fill="none"/>
<circle cx="427.4" cy="364.4" r="2.6" fill="#f1f1f1" stroke="#888" stroke-width="0.5"/>
<path d="M425.84 364.4 L428.96 364.4 M427.4 362.84 L427.4 365.96" stroke="#8c8c8c" stroke-width="0.5" fill="none"/>
<circle cx="422" cy="389" r="2.6" fill="#f1f1f1" stroke="#888" stroke-width="0.5"/>
<path d="M420.44 389 L423.56 389 M422 387.44 L422 390.56" stroke="#8c8c8c" stroke-width="0.5" fill="none"/>
<circle cx="403.4" cy="474" r="2.6" fill="#f1f1f1" stroke="#888" stroke-width="0.5"/>
<path d="M401.84 474 L404.96 474 M403.4 472.44 L403.4 475.56" stroke="#8c8c8c" stroke-width="0.5" fill="none"/>
<circle cx="476" cy="253.6" r="1.6" fill="#f1f1f1" stroke="#999" stroke-width="0.5"/>
<circle cx="475" cy="263" r="1.6" fill="#f1f1f1" stroke="#999" stroke-width="0.5"/>
<circle cx="472.4" cy="318" r="3.4" fill="#f1f1f1" stroke="#727272" stroke-width="0.7"/>
<path d="M470.35999999999996 318 L474.44 318 M472.4 315.96 L472.4 320.04" stroke="#8c8c8c" stroke-width="0.5" fill="none"/>
<circle cx="471" cy="331" r="3.4" fill="#f1f1f1" stroke="#727272" stroke-width="0.7"/>
<path d="M468.96 331 L473.04 331 M471 328.96 L471 333.04" stroke="#8c8c8c" stroke-width="0.5" fill="none"/>
<circle cx="470" cy="345" r="3.4" fill="#f1f1f1" stroke="#727272" stroke-width="0.7"/>
<path d="M467.96 345 L472.04 345 M470 342.96 L470 347.04" stroke="#8c8c8c" stroke-width="0.5" fill="none"/>
<circle cx="469" cy="360" r="3.4" fill="#f1f1f1" stroke="#727272" stroke-width="0.7"/>
<path d="M466.96 360 L471.04 360 M469 357.96 L469 362.04" stroke="#8c8c8c" stroke-width="0.5" fill="none"/>
<circle cx="477" cy="382" r="3.4" fill="#f1f1f1" stroke="#727272" stroke-width="0.7"/>
<path d="M474.96 382 L479.04 382 M477 379.96 L477 384.04" stroke="#8c8c8c" stroke-width="0.5" fill="none"/>
<circle cx="497.6" cy="382" r="3.4" fill="#f1f1f1" stroke="#727272" stroke-width="0.7"/>
<path d="M495.56 382 L499.64000000000004 382 M497.6 379.96 L497.6 384.04" stroke="#8c8c8c" stroke-width="0.5" fill="none"/>
<circle cx="521" cy="382" r="3.4" fill="#f1f1f1" stroke="#727272" stroke-width="0.7"/>
<path d="M518.96 382 L523.04 382 M521 379.96 L521 384.04" stroke="#8c8c8c" stroke-width="0.5" fill="none"/>
<circle cx="467.4" cy="449" r="4.0" fill="#f1f1f1" stroke="#727272" stroke-width="0.7"/>
<path d="M465.0 449 L469.79999999999995 449 M467.4 446.6 L467.4 451.4" stroke="#8c8c8c" stroke-width="0.5" fill="none"/>
<circle cx="485.6" cy="450" r="4.0" fill="#f1f1f1" stroke="#727272" stroke-width="0.7"/>
<path d="M483.20000000000005 450 L488.0 450 M485.6 447.6 L485.6 452.4" stroke="#8c8c8c" stroke-width="0.5" fill="none"/>
<circle cx="480.6" cy="463.4" r="4.0" fill="#f1f1f1" stroke="#727272" stroke-width="0.7"/>
<path d="M478.20000000000005 463.4 L483.0 463.4 M480.6 461.0 L480.6 465.79999999999995" stroke="#8c8c8c" stroke-width="0.5" fill="none"/>
<circle cx="451" cy="466" r="4.0" fill="#f1f1f1" stroke="#727272" stroke-width="0.7"/>
<path d="M448.6 466 L453.4 466 M451 463.6 L451 468.4" stroke="#8c8c8c" stroke-width="0.5" fill="none"/>
<circle cx="449.4" cy="485" r="4.0" fill="#f1f1f1" stroke="#727272" stroke-width="0.7"/>
<path d="M447.0 485 L451.79999999999995 485 M449.4 482.6 L449.4 487.4" stroke="#8c8c8c" stroke-width="0.5" fill="none"/>
<circle cx="513.4" cy="446.4" r="4.0" fill="#f1f1f1" stroke="#727272" stroke-width="0.7"/>
<path d="M511.0 446.4 L515.8 446.4 M513.4 444.0 L513.4 448.79999999999995" stroke="#8c8c8c" stroke-width="0.5" fill="none"/>
<circle cx="513.4" cy="466" r="4.0" fill="#f1f1f1" stroke="#727272" stroke-width="0.7"/>
<path d="M511.0 466 L515.8 466 M513.4 463.6 L513.4 468.4" stroke="#8c8c8c" stroke-width="0.5" fill="none"/>
<circle cx="513.4" cy="485.6" r="4.0" fill="#f1f1f1" stroke="#727272" stroke-width="0.7"/>
<path d="M511.0 485.6 L515.8 485.6 M513.4 483.20000000000005 L513.4 488.0" stroke="#8c8c8c" stroke-width="0.5" fill="none"/>
<circle cx="562.5" cy="407" r="8.4" fill="#e6e6e6" stroke="#666" stroke-width="0.75"/>
<path d="M563.7 407.3 L570.1 406.8 L570.4 409.1 L569.0 410.9 Z M562.9 408.1 L567.2 412.9 L565.5 414.6 L563.1 414.5 Z M562.1 408.1 L561.6 414.5 L559.5 414.6 L558.1 413.1 Z M561.3 407.3 L555.9 410.7 L554.6 408.9 L554.9 406.7 Z M561.5 406.3 L555.3 404.6 L555.7 402.6 L557.4 401.4 Z M562.4 405.8 L560.0 399.9 L561.8 398.9 L563.7 399.5 Z M563.4 406.2 L566.6 400.6 L568.5 401.5 L569.2 403.5 Z " fill="#fff" stroke="#666" stroke-width="0.5" stroke-linejoin="round"/>
<circle cx="537.4" cy="417.4" r="8.4" fill="#e6e6e6" stroke="#666" stroke-width="0.75"/>
<path d="M538.5 417.9 L544.8 418.9 L544.8 420.8 L543.3 422.1 Z M537.5 418.6 L540.1 424.5 L538.2 425.5 L536.1 424.8 Z M536.6 418.3 L534.0 424.1 L532.0 423.5 L531.2 421.7 Z M536.2 417.3 L530.0 418.9 L529.3 417.0 L530.2 415.2 Z M536.7 416.4 L531.6 412.6 L532.6 410.8 L534.6 410.4 Z M537.7 416.2 L537.5 409.8 L539.5 409.5 L541.1 410.8 Z M538.5 416.9 L543.3 412.7 L544.8 414.0 L544.8 416.0 Z " fill="#fff" stroke="#666" stroke-width="0.5" stroke-linejoin="round"/>
<circle cx="559.4" cy="441" r="8.4" fill="#e6e6e6" stroke="#666" stroke-width="0.75"/>
<path d="M560.1 442.0 L565.4 445.6 L564.3 447.5 L562.2 448.0 Z M558.9 442.1 L558.6 448.5 L556.2 448.5 L554.5 446.7 Z M558.3 441.4 L553.2 445.3 L551.7 443.6 L551.8 441.2 Z M558.3 440.5 L551.9 439.9 L551.9 437.9 L553.3 436.5 Z M559.3 439.8 L556.8 433.9 L559.0 432.9 L561.3 433.7 Z M560.2 440.1 L563.0 434.3 L565.1 435.2 L566.0 437.3 Z M560.6 441.2 L566.9 439.9 L567.5 442.2 L566.2 444.3 Z " fill="#fff" stroke="#666" stroke-width="0.5" stroke-linejoin="round"/>
<circle cx="532.5" cy="450" r="8.4" fill="#e6e6e6" stroke="#666" stroke-width="0.75"/>
<path d="M532.7 451.2 L535.8 456.8 L533.8 458.0 L531.5 457.5 Z M531.8 451.0 L530.0 457.1 L528.0 456.8 L526.8 455.0 Z M531.3 450.0 L525.2 452.1 L524.4 450.1 L525.2 448.0 Z M531.7 449.1 L526.2 445.8 L527.2 443.8 L529.2 443.2 Z M532.6 448.8 L531.2 442.6 L533.0 441.9 L534.7 442.8 Z M533.6 449.5 L538.2 445.0 L539.9 446.5 L540.0 448.8 Z M533.6 450.6 L539.9 451.4 L539.7 453.7 L538.0 455.2 Z " fill="#fff" stroke="#666" stroke-width="0.5" stroke-linejoin="round"/>
<circle cx="531.6" cy="474.4" r="8.4" fill="#e6e6e6" stroke="#666" stroke-width="0.75"/>
<path d="M531.6 475.6 L533.3 481.8 L531.5 482.5 L529.6 481.7 Z M530.7 475.2 L527.1 480.5 L525.4 479.7 L524.9 477.8 Z M530.5 474.0 L524.1 473.9 L523.9 471.7 L525.4 470.1 Z M531.1 473.3 L526.9 468.5 L528.2 467.0 L530.2 467.0 Z M532.1 473.3 L533.0 467.0 L535.0 467.0 L536.3 468.4 Z M532.8 474.3 L538.7 471.7 L539.7 473.7 L539.0 475.8 Z M532.4 475.2 L538.2 478.1 L537.4 480.2 L535.3 481.0 Z " fill="#fff" stroke="#666" stroke-width="0.5" stroke-linejoin="round"/>
<circle cx="553.4" cy="471.4" r="8.4" fill="#e6e6e6" stroke="#666" stroke-width="0.75"/>
<path d="M552.8 472.4 L551.7 478.8 L549.4 478.5 L548.1 476.8 Z M552.2 471.6 L546.7 474.8 L545.4 473.1 L545.9 470.9 Z M552.4 470.8 L546.2 469.0 L546.5 467.1 L548.1 466.0 Z M553.4 470.2 L551.5 464.1 L553.4 463.3 L555.4 464.1 Z M554.4 470.8 L558.5 465.8 L560.4 467.3 L560.8 469.6 Z M554.6 471.7 L561.0 471.2 L561.3 473.3 L560.0 475.1 Z M553.7 472.6 L557.5 477.7 L555.5 479.3 L553.1 479.0 Z " fill="#fff" stroke="#666" stroke-width="0.5" stroke-linejoin="round"/>
<circle cx="544.5" cy="496" r="8.4" fill="#e6e6e6" stroke="#666" stroke-width="0.75"/>
<path d="M543.5 496.7 L539.7 501.8 L537.7 500.4 L537.2 498.0 Z M543.4 495.7 L536.9 496.0 L536.7 493.6 L538.2 491.8 Z M543.9 494.9 L539.3 490.5 L540.7 488.8 L542.9 488.6 Z M544.9 494.9 L545.2 488.5 L547.3 488.3 L548.8 489.8 Z M545.7 495.7 L551.0 492.1 L552.4 493.8 L552.1 496.0 Z M545.5 496.6 L551.8 498.1 L551.5 500.1 L549.9 501.3 Z M544.7 497.2 L547.6 502.9 L546.0 504.0 L544.1 503.6 Z " fill="#fff" stroke="#666" stroke-width="0.5" stroke-linejoin="round"/>
<circle cx="479.4" cy="485.8" r="12.6" fill="#dcdcdc" stroke="#1a1a1a" stroke-width="0.95"/>
<path d="M480.6 485.8 L490.6 483.8 L491.6 486.0 L490.5 488.2 Z M480.3 486.6 L488.9 492.0 L488.2 494.3 L486.0 495.0 Z M479.3 487.0 L480.7 497.1 L478.1 498.0 L475.8 496.5 Z M478.5 486.6 L472.9 495.1 L470.6 494.3 L469.8 491.9 Z M478.2 485.8 L468.3 488.1 L467.2 486.0 L468.2 483.9 Z M478.7 484.9 L470.6 478.6 L471.9 476.1 L474.7 475.5 Z M479.5 484.6 L478.1 474.5 L480.6 473.6 L483.0 475.0 Z M480.3 485.0 L485.8 476.5 L488.1 477.3 L488.9 479.6 Z " fill="#fff" stroke="#1a1a1a" stroke-width="0.7" stroke-linejoin="round"/>
<path d="M480.6 485.8 L488.8 486.0 M480.3 486.6 L486.2 492.3 M479.3 487.0 L478.4 495.2 M478.5 486.6 L472.6 492.3 M478.2 485.8 L470.0 485.9 M478.7 484.9 L473.6 478.3 M479.5 484.6 L480.4 476.4 M480.3 485.0 L486.2 479.2 " fill="none" stroke="#1a1a1a" stroke-width="0.48999999999999994"/>
</g>
<g id="stext">
<text x="480.6" y="142.6" font-size="12.6" textLength="20.4" lengthAdjust="spacingAndGlyphs" fill="#151515" stroke="#151515" stroke-width="0.34" >Shed</text>
<text x="565.4" y="223.9" font-size="10.6" textLength="18.4" lengthAdjust="spacingAndGlyphs" fill="#151515" stroke="#151515" stroke-width="0.34" >Deck</text>
<text x="505" y="298.4" font-size="13.5" textLength="51" lengthAdjust="spacingAndGlyphs" fill="#151515" stroke="#151515" stroke-width="0.34" >Residence</text>
<text x="465" y="418.5" font-size="13.5" textLength="43.4" lengthAdjust="spacingAndGlyphs" fill="#151515" stroke="#151515" stroke-width="0.34" >Carspace</text>
</g>
</g>
</svg>
</body></html>
